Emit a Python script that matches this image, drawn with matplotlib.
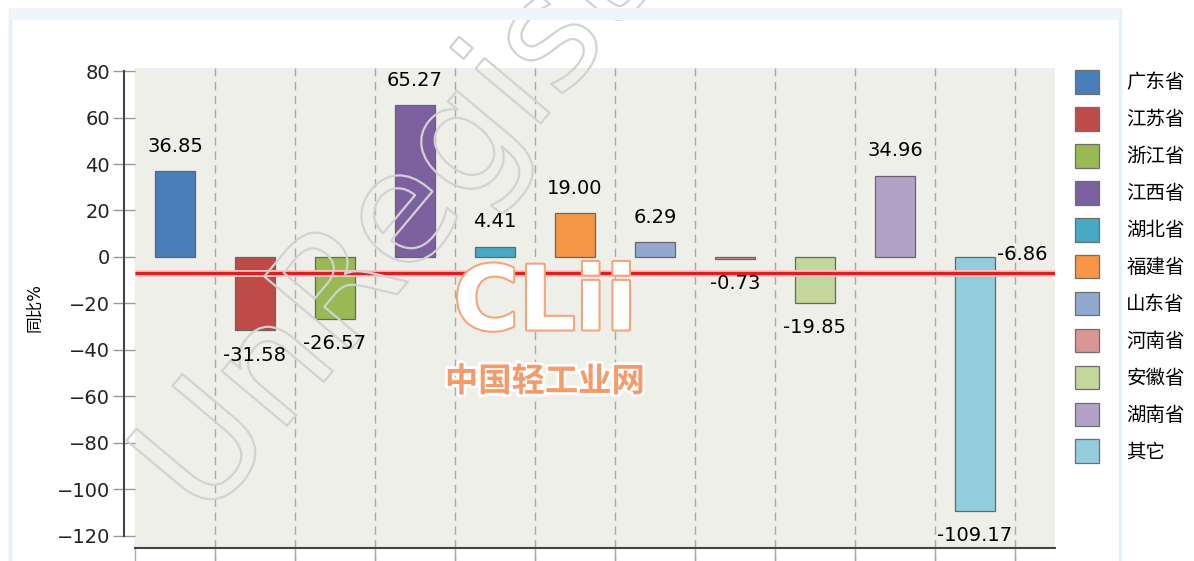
import matplotlib
matplotlib.use("Agg")
import matplotlib.pyplot as plt
import matplotlib.patheffects as pe
from matplotlib.patches import Patch, Rectangle
import numpy as np

# data
provinces = ["广东省", "江苏省", "浙江省", "江西省", "湖北省", "福建省",
             "山东省", "河南省", "安徽省", "湖南省", "其它"]
values = [36.85, -31.58, -26.57, 65.27, 4.41, 19.00, 6.29, -0.73, -19.85, 34.96, -109.17]
mean_value = -6.86
colors = ["#4A7EBB", "#BE4B48", "#98B954", "#7D60A0", "#46AAC5", "#F79646",
          "#92A9CF", "#D99694", "#C3D69B", "#B3A2C7", "#93CDDD"]
y_ticks = [80, 60, 40, 20, 0, -20, -40, -60, -80, -100, -120]

plt.rcParams['font.family'] = ['DejaVu Sans', 'Noto Sans CJK SC']

fig = plt.figure(figsize=(11.94, 5.61), dpi=100)
fig.patch.set_facecolor('white')
# pale frame of the original widget
fig.patches.append(Rectangle((10 / 1194, -0.1), 1110 / 1194, 1.08 - 10 / 561 + 0.02,
                             transform=fig.transFigure, fill=False,
                             edgecolor='#E4F1F7', lw=2.5, zorder=0))
fig.patches.append(Rectangle((10 / 1194, 1 - 20 / 561), 1110 / 1194, 12 / 561,
                             transform=fig.transFigure, facecolor='#EEF6FA',
                             edgecolor='none', zorder=0))

ax = fig.add_axes([124 / 1194, 1 - 548 / 561, (1055 - 124) / 1194, (548 - 68) / 561])
ax.set_facecolor('none')

X = np.arange(len(values))
ax.set_xlim(-0.6375, 11.0)
ax.set_ylim(-125.2, 81.3)

# plot background
ax.axvspan(-0.5, 11.0, color='#EFEFE9', zorder=0)

# dashed separators
for xs in X + 0.5:
    ax.axvline(xs, color='#A8A8A8', lw=1, dashes=(6, 4), zorder=1, clip_on=False,
               ymin=-0.05, ymax=1)

ax.bar(X, values, width=0.51, color=colors, edgecolor='#666666', linewidth=0.9, zorder=3)

# mean line
ax.hlines(mean_value, -0.5, 11.0, color='#DD1F1F', lw=2.4, zorder=4,
          path_effects=[pe.Stroke(linewidth=5, foreground='#F6C8C8'), pe.Normal()])
ax.annotate(f"{mean_value:.2f}", (10.28, mean_value), xytext=(0, 13),
            textcoords='offset points', ha='left', va='center', fontsize=14, zorder=7)

# value labels
for x, v in zip(X, values):
    if v >= 0:
        ax.annotate(f"{v:.2f}", (x, v), xytext=(0, 11), textcoords='offset points',
                    ha='center', va='bottom', fontsize=14, zorder=7)
    else:
        ax.annotate(f"{v:.2f}", (x, v), xytext=(0, -11), textcoords='offset points',
                    ha='center', va='top', fontsize=14, zorder=7)

# axes styling
for s in ['top', 'right']:
    ax.spines[s].set_visible(False)
ax.spines['left'].set_bounds(-120, 80)
ax.spines['left'].set_color('#444444')
ax.spines['left'].set_linewidth(1.5)
ax.spines['bottom'].set_bounds(-0.5, 11.0)
ax.spines['bottom'].set_color('#444444')
ax.spines['bottom'].set_linewidth(1.5)
ax.set_yticks(y_ticks)
ax.set_yticklabels([str(t).replace('-', '\u2212') for t in y_ticks], fontsize=14, color='#222222')
ax.tick_params(axis='y', direction='inout', length=16, width=1, color='#999999', pad=2)
ax.set_xticks(np.append(-0.5, X + 0.5))
ax.set_xticklabels([])
ax.tick_params(axis='x', direction='out', length=12, width=1, color='#AAAAAA')
ax.set_ylabel("同比%", fontsize=12, labelpad=10)

# legend
handles = [Patch(facecolor=c, edgecolor='#6D6D6D', lw=0.9) for c in colors]
fig.legend(handles, provinces, loc='upper left', bbox_to_anchor=(1075 / 1194, 1 - 70 / 561),
           bbox_transform=fig.transFigure, frameon=False, fontsize=14, borderpad=0,
           borderaxespad=0, handlelength=1.24, handleheight=1.5, handletextpad=1.4,
           labelspacing=0.68)

# watermarks (drawn inside the axes, above the bars, below the labels)
ax.text(230 / 1194, 1 - 545 / 561, "UnRegiste", transform=fig.transFigure,
        rotation=50, rotation_mode='anchor', ha='left', va='bottom', fontsize=112,
        color='none', zorder=5, clip_on=False,
        path_effects=[pe.Stroke(linewidth=1.6, foreground='#D2D2D2')])
ax.text(545 / 1194, 1 - 305 / 561, "CLii", transform=fig.transFigure, ha='center',
        va='center', fontsize=64, fontweight='bold', color='white', zorder=6, clip_on=False,
        path_effects=[pe.Stroke(linewidth=3, foreground='#F4A57A'), pe.Normal()])
ax.text(545 / 1194, 1 - 382 / 561, "中国轻工业网", transform=fig.transFigure, ha='center',
        va='center', fontsize=24, fontweight='bold', color='#F59A6A', zorder=6, clip_on=False,
        path_effects=[pe.Stroke(linewidth=4, foreground='white'), pe.Normal()])

fig.savefig("out.png", dpi=100)
